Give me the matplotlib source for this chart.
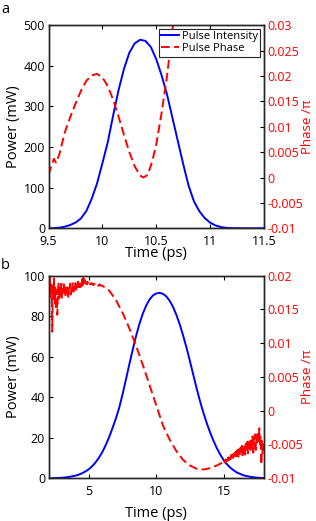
import matplotlib
matplotlib.use('Agg')
import matplotlib.pyplot as plt

plt.rcParams['font.family'] = ['Open Sans', 'DejaVu Sans']

# panel a: intensity (mW) and phase (units of pi) vs time (ps)
t_int_a = [9.50, 9.55, 9.60, 9.65, 9.70, 9.75, 9.80, 9.85, 9.90, 9.95, 10.00,
           10.05, 10.10, 10.15, 10.20, 10.25, 10.30, 10.35, 10.40, 10.45, 10.50,
           10.55, 10.60, 10.65, 10.70, 10.75, 10.80, 10.85, 10.90, 10.95, 11.00,
           11.05, 11.10, 11.15, 11.20, 11.30, 11.50]
p_int_a = [0, 0.5, 1.5, 4, 8, 14, 24, 42, 72, 110, 160,
           212, 278, 340, 392, 432, 455, 464, 461, 446, 416,
           376, 329, 272, 215, 158, 105, 66, 42, 25, 14,
           7, 3, 1.2, 0.4, 0, 0]

t_ph_a = [9.50, 9.52, 9.55, 9.57, 9.60, 9.65, 9.70, 9.75, 9.80, 9.85, 9.90,
          9.95, 10.00, 10.05, 10.10, 10.15, 10.20, 10.25, 10.30, 10.35, 10.38,
          10.42, 10.46, 10.50, 10.55, 10.60, 10.65, 10.70]
ph_a = [0.0005, 0.0018, 0.0037, 0.0029, 0.0045, 0.0088, 0.0118, 0.0145, 0.0170, 0.0190, 0.0201,
        0.0204, 0.0197, 0.0180, 0.0153, 0.0120, 0.0084, 0.0050, 0.0022, 0.0004, 0.0000,
        0.0005, 0.0030, 0.0065, 0.0128, 0.0200, 0.0290, 0.0385]

# panel b
t_int_b = [2.0, 2.5, 3.0, 3.5, 4.0, 4.25, 4.5, 4.75, 5.0, 5.25, 5.5, 5.75, 6.0,
           6.25, 6.5, 6.75, 7.0, 7.25, 7.5, 7.75, 8.0, 8.25, 8.5, 8.75, 9.0,
           9.25, 9.5, 9.75, 10.0, 10.25, 10.5, 10.75, 11.0, 11.25, 11.5, 11.75,
           12.0, 12.25, 12.5, 12.75, 13.0, 13.25, 13.5, 13.75, 14.0, 14.25, 14.5,
           14.75, 15.0, 15.25, 15.5, 15.75, 16.0, 16.5, 17.0, 17.5, 18.0]
p_int_b = [0, 0.1, 0.25, 0.6, 1.3, 1.8, 2.5, 3.4, 4.5, 6.0, 7.9, 10.2, 13.0,
           16.4, 20.3, 24.7, 29.5, 34.8, 41.5, 48.8, 56.2, 63.4, 70.2, 76.2, 81.2,
           85.2, 88.2, 90.2, 91.2, 91.5, 91.0, 89.7, 87.5, 84.5, 80.5, 75.8,
           70.3, 64.3, 57.8, 51.0, 44.3, 38.0, 32.3, 27.2, 22.6, 18.5, 14.8,
           11.7, 9.0, 6.9, 5.2, 3.9, 2.8, 1.4, 0.7, 0.3, 0.1]

t_ph_b = [2.00, 2.05, 2.10, 2.15, 2.20, 2.25, 2.28, 2.32, 2.36, 2.40, 2.45, 2.50,
          2.55, 2.60, 2.65, 2.70, 2.75, 2.80, 2.85, 2.90, 2.95, 3.00, 3.05, 3.10,
          3.15, 3.20, 3.25, 3.30, 3.35, 3.40, 3.45, 3.50, 3.55, 3.60, 3.65, 3.70,
          3.75, 3.80, 3.85, 3.90, 3.95, 4.00, 4.05, 4.10, 4.15, 4.20, 4.25, 4.30,
          4.35, 4.40, 4.45, 4.50, 4.55, 4.60, 4.65, 4.70, 4.75, 4.80, 4.85, 4.90,
          4.95, 5.00, 5.10, 5.20, 5.30, 5.40, 5.50, 5.60, 5.70, 5.80, 5.90, 6.00,
          6.50, 7.00, 7.50, 8.00, 8.50, 9.00, 9.50, 10.00, 10.50, 11.00, 11.50,
          12.00, 12.50, 13.00, 13.50, 14.00, 14.50,
          15.00, 15.05, 15.10, 15.15, 15.20, 15.25, 15.30, 15.35, 15.40, 15.45,
          15.50, 15.55, 15.60, 15.65, 15.70, 15.75, 15.80, 15.85, 15.90, 15.95,
          16.00, 16.05, 16.10, 16.15, 16.20, 16.25, 16.30, 16.35, 16.40, 16.45,
          16.50, 16.55, 16.60, 16.65, 16.70, 16.75, 16.80, 16.85, 16.90, 16.95,
          17.00, 17.05, 17.10, 17.15, 17.20, 17.25, 17.30, 17.35, 17.40, 17.45,
          17.50, 17.55, 17.60, 17.65, 17.70, 17.75, 17.80, 17.85, 17.90, 17.95,
          18.00]
ph_b = [0.0192, 0.0175, 0.0198, 0.0168, 0.0190, 0.0160, 0.0117, 0.0185, 0.0172, 0.0196, 0.0158, 0.0182,
        0.0150, 0.0178, 0.0142, 0.0175, 0.0190, 0.0165, 0.0183, 0.0170, 0.0188, 0.0166, 0.0180, 0.0172,
        0.0190, 0.0176, 0.0168, 0.0184, 0.0174, 0.0186, 0.0166, 0.0180, 0.0177, 0.0188, 0.0172, 0.0183,
        0.0178, 0.0190, 0.0176, 0.0185, 0.0180, 0.0189, 0.0179, 0.0186, 0.0182, 0.0191, 0.0180, 0.0187,
        0.0183, 0.0190, 0.0184, 0.0195, 0.0186, 0.0200, 0.0189, 0.0193, 0.0186, 0.0190, 0.0187, 0.0191,
        0.0186, 0.0189, 0.0187, 0.0189, 0.0186, 0.0188, 0.0186, 0.0188, 0.0185, 0.0187, 0.0185, 0.0185,
        0.0178, 0.0164, 0.0145, 0.0122, 0.0096, 0.0068, 0.0038, 0.0008, -0.0022, -0.0043, -0.0060,
        -0.0073, -0.0081, -0.0086, -0.0087, -0.0085, -0.0081,
        -0.0076, -0.0073, -0.0077, -0.0072, -0.0075, -0.0070, -0.0074, -0.0069, -0.0073, -0.0067,
        -0.0072, -0.0066, -0.0071, -0.0065, -0.0070, -0.0063, -0.0069, -0.0062, -0.0070, -0.0060,
        -0.0067, -0.0058, -0.0068, -0.0057, -0.0066, -0.0055, -0.0064, -0.0052, -0.0066, -0.0054,
        -0.0062, -0.0050, -0.0065, -0.0049, -0.0060, -0.0046, -0.0063, -0.0047, -0.0058, -0.0042,
        -0.0060, -0.0044, -0.0056, -0.0038, -0.0062, -0.0040, -0.0055, -0.0035, -0.0058, -0.0032,
        -0.0050, -0.0030, -0.0045, -0.0026, -0.0052, -0.0038, -0.0080, -0.0045, -0.0065, -0.0050,
        -0.0058]

xticks_a = [9.5, 10, 10.5, 11, 11.5]
xticklabels_a = ['9.5', '10', '10.5', '11', '11.5']
yticks_a = [0, 100, 200, 300, 400, 500]
phticks_a = [-0.01, -0.005, 0, 0.005, 0.01, 0.015, 0.02, 0.025, 0.03]
phlabels_a = ['-0.01', '-0.005', '0', '0.005', '0.01', '0.015', '0.02', '0.025', '0.03']

xticks_b = [5, 10, 15]
yticks_b = [0, 20, 40, 60, 80, 100]
phticks_b = [-0.01, -0.005, 0, 0.005, 0.01, 0.015, 0.02]
phlabels_b = ['-0.01', '-0.005', '0', '0.005', '0.01', '0.015', '0.02']

blue = '#0000ff'
red = '#ff0000'
tick_fs = 9
label_fs = 10.5

fig = plt.figure(figsize=(3.16, 5.21), dpi=100)
ax_a = fig.add_axes([0.1535, 0.5618, 0.682, 0.390])
ax_b = fig.add_axes([0.1535, 0.082, 0.682, 0.389])


def style(ax, ax2):
    for a in (ax, ax2):
        for s in a.spines.values():
            s.set_linewidth(1.0)
            s.set_color('#262626')
    ax.tick_params(axis='x', direction='in', top=True, labelsize=tick_fs,
                   length=3, width=0.8, pad=4.5)
    ax.tick_params(axis='y', direction='in', right=False, labelsize=tick_fs,
                   length=3, width=0.8, pad=2.5)
    ax2.tick_params(direction='in', labelsize=tick_fs, length=3, width=0.8,
                    labelcolor=red, pad=2.2)


# panel a
ax2_a = ax_a.twinx()
l1, = ax_a.plot(t_int_a, p_int_a, color=blue, lw=1.4, label='Pulse Intensity')
l2, = ax2_a.plot(t_ph_a, ph_a, color=red, lw=1.4, dashes=(4.5, 2.2), label='Pulse Phase')
ax_a.set_xlim(9.5, 11.5)
ax_a.set_ylim(0, 500)
ax2_a.set_ylim(-0.01, 0.03)
ax_a.set_xticks(xticks_a)
ax_a.set_xticklabels(xticklabels_a)
ax_a.set_yticks(yticks_a)
ax2_a.set_yticks(phticks_a)
ax2_a.set_yticklabels(phlabels_a)
ax_a.set_xlabel('Time (ps)', fontsize=label_fs, labelpad=-1)
ax_a.set_ylabel('Power (mW)', fontsize=label_fs, labelpad=2)
ax2_a.set_ylabel('Phase /π', fontsize=9.5, color=red, labelpad=-1.5)
style(ax_a, ax2_a)
leg = ax2_a.legend([l1, l2], ['Pulse Intensity', 'Pulse Phase'], loc='upper right',
                   fontsize=8, frameon=True, fancybox=False, framealpha=1,
                   edgecolor='#262626', borderaxespad=0.35, handlelength=1.6,
                   handletextpad=0.25, borderpad=0.2, labelspacing=0.1)
leg.get_frame().set_linewidth(0.8)

# panel b
ax2_b = ax_b.twinx()
ax_b.plot(t_int_b, p_int_b, color=blue, lw=1.4)
ax2_b.plot(t_ph_b, ph_b, color=red, lw=1.4, dashes=(4.5, 2.2))
ax_b.set_xlim(2, 18)
ax_b.set_ylim(0, 100)
ax2_b.set_ylim(-0.01, 0.02)
ax_b.set_xticks(xticks_b)
ax_b.set_yticks(yticks_b)
ax2_b.set_yticks(phticks_b)
ax2_b.set_yticklabels(phlabels_b)
ax_b.set_xlabel('Time (ps)', fontsize=label_fs, labelpad=6)
ax_b.set_ylabel('Power (mW)', fontsize=label_fs, labelpad=2)
ax2_b.set_ylabel('Phase /π', fontsize=9.5, color=red, labelpad=-1.5)
style(ax_b, ax2_b)

fig.text(0.003, 0.981, 'a', fontsize=10.5, va='center', ha='left')
fig.text(0.003, 0.491, 'b', fontsize=10.5, va='center', ha='left')

fig.savefig('out.png', dpi=100)
